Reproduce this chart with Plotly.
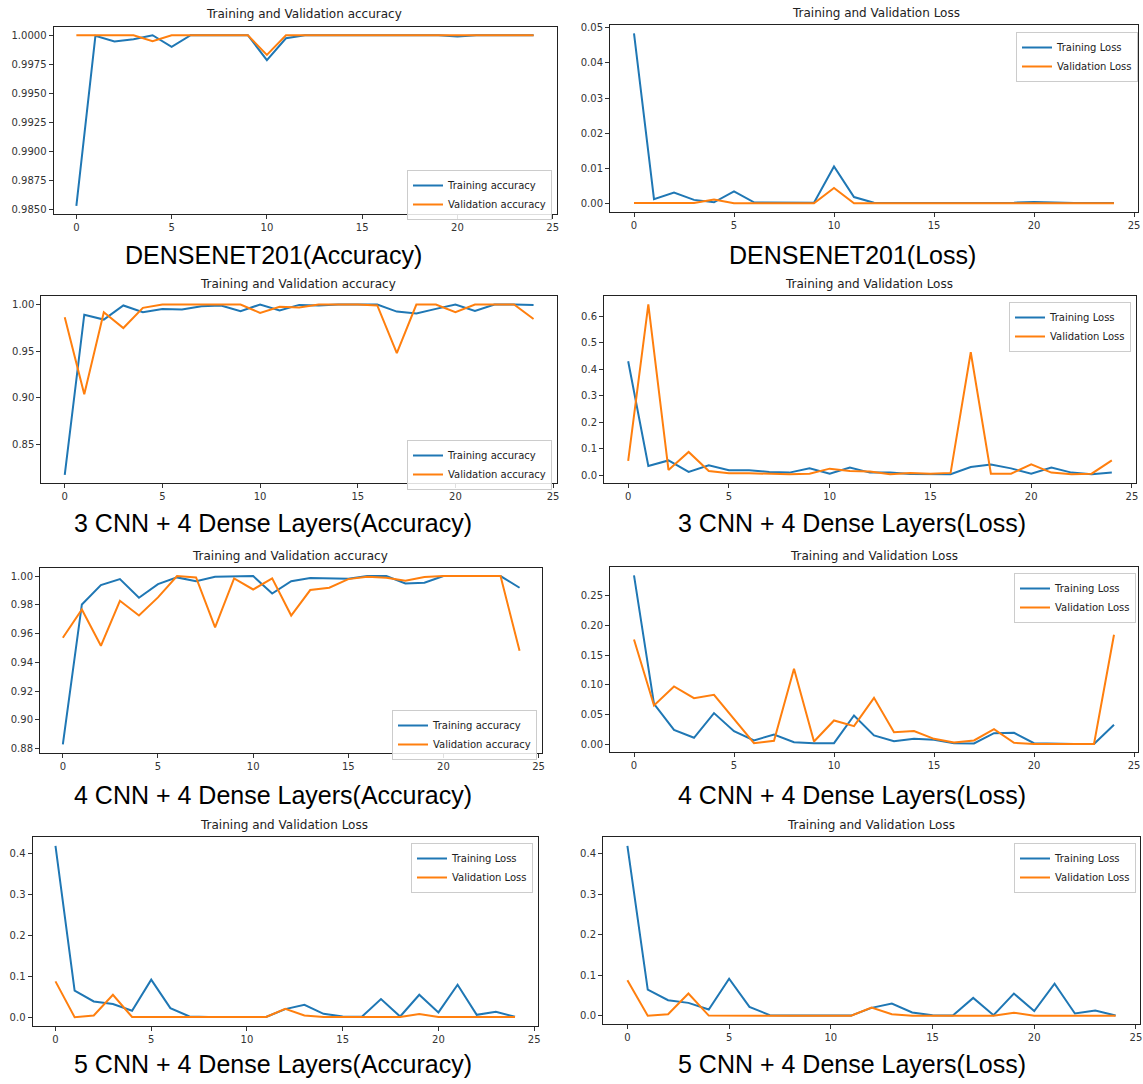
import plotly.graph_objects as go

W, H = 1143, 1084
epochs = list(range(25))

# ---------------- data ----------------
dn_train_acc = [0.9853, 0.99995, 0.99946, 0.99966, 1.0, 0.9990, 1.0, 1.0, 1.0, 1.0,
                0.99786, 0.99974, 1.0, 1.0, 1.0, 1.0, 1.0, 1.0, 1.0, 1.0,
                0.99989, 1.0, 1.0, 1.0, 1.0]
dn_val_acc = [1.0, 1.0, 1.0, 1.0, 0.99949, 1.0, 1.0, 1.0, 1.0, 1.0,
              0.99831, 1.0, 1.0, 1.0, 1.0, 1.0, 1.0, 1.0, 1.0, 1.0,
              1.0, 1.0, 1.0, 1.0, 1.0]
dn_train_loss = [0.0484, 0.0012, 0.0031, 0.0010, 0.0003, 0.0034, 0.0003, 0.0002, 0.0002, 0.0002,
                 0.0105, 0.0018, 0.0002, 0.0001, 0.0001, 0.0001, 0.0001, 0.0001, 0.0001, 0.0002,
                 0.0004, 0.0002, 0.0001, 0.0001, 0.0001]
dn_val_loss = [0.0001, 0.0001, 0.0001, 0.0001, 0.0011, 0.00005, 0.00005, 0.00005, 0.00005, 0.00005,
               0.0044, 0.00005, 0.00005, 0.00005, 0.00005, 0.00005, 0.00005, 0.00005, 0.00005, 0.00005,
               0.00005, 0.00005, 0.00005, 0.00005, 0.00005]

c3_train_acc = [0.817, 0.989, 0.9838, 0.999, 0.9917, 0.9953, 0.9946, 0.998, 0.999, 0.9928,
                1.0, 0.9935, 0.9996, 0.999, 1.0, 1.0, 1.0, 0.9924, 0.9903, 0.9953,
                1.0, 0.9931, 1.0, 1.0, 0.9996]
c3_val_acc = [0.9863, 0.9036, 0.9917, 0.9747, 0.9964, 1.0, 1.0, 1.0, 1.0, 1.0,
              0.991, 0.9975, 0.9968, 1.0, 1.0, 1.0, 0.999, 0.9477, 1.0, 1.0,
              0.9917, 1.0, 1.0, 1.0, 0.9845]
c3_train_loss = [0.430, 0.035, 0.056, 0.0125, 0.0376, 0.019, 0.019, 0.0125, 0.010, 0.026,
                 0.006, 0.029, 0.010, 0.010, 0.005, 0.004, 0.004, 0.031, 0.041, 0.026,
                 0.006, 0.029, 0.010, 0.004, 0.010]
c3_val_loss = [0.054, 0.644, 0.020, 0.088, 0.016, 0.0075, 0.0075, 0.005, 0.004, 0.006,
               0.025, 0.016, 0.014, 0.004, 0.009, 0.006, 0.009, 0.464, 0.006, 0.006,
               0.041, 0.010, 0.004, 0.006, 0.056]

c4_train_acc = [0.883, 0.9803, 0.9937, 0.9979, 0.9849, 0.9944, 0.9991, 0.9965, 0.9995, 0.9998,
                1.0, 0.9879, 0.9965, 0.9986, 0.9981, 0.9981, 1.0, 1.0, 0.9949, 0.9954,
                1.0, 1.0, 1.0, 1.0, 0.9919]
c4_val_acc = [0.9571, 0.9768, 0.9515, 0.9828, 0.9726, 0.9852, 1.0, 0.9991, 0.9643, 0.9984,
              0.9907, 0.9984, 0.9726, 0.9903, 0.9919, 0.9979, 0.9995, 0.9988, 0.9968, 0.9993,
              1.0, 1.0, 1.0, 1.0, 0.948]
c4_train_loss = [0.2836, 0.0682, 0.0246, 0.0112, 0.0526, 0.0224, 0.0067, 0.0168, 0.0039, 0.0022,
                 0.0022, 0.0487, 0.0151, 0.0056, 0.0095, 0.0078, 0.0022, 0.0017, 0.019, 0.0196,
                 0.0022, 0.001, 0.001, 0.001, 0.033]
c4_val_loss = [0.1762, 0.0654, 0.0973, 0.0777, 0.0833, 0.0431, 0.0022, 0.0062, 0.127, 0.005,
               0.0403, 0.0308, 0.0783, 0.0207, 0.0224, 0.0095, 0.0034, 0.0067, 0.0257, 0.0028,
               0.001, 0.001, 0.001, 0.001, 0.184]

c5_train_loss = [0.419, 0.0646, 0.0384, 0.0319, 0.0155, 0.0916, 0.0221, 0.0016, 0.0005, 0.0005,
                 0.0005, 0.0005, 0.0196, 0.0303, 0.0082, 0.0016, 0.0008, 0.0442, 0.0016, 0.0548,
                 0.0115, 0.0793, 0.0057, 0.0131, 0.0008]
c5_val_loss = [0.0875, 0.0, 0.004, 0.0548, 0.0005, 0.0003, 0.0003, 0.0003, 0.0003, 0.0003,
               0.0003, 0.0003, 0.0204, 0.004, 0.0003, 0.0003, 0.0003, 0.0003, 0.0003, 0.0075,
               0.0003, 0.0003, 0.0003, 0.0003, 0.0003]

x_ticks = [0, 5, 10, 15, 20, 25]
yt_dn_acc = [0.9850, 0.9875, 0.9900, 0.9925, 0.9950, 0.9975, 1.0000]
yt_dn_loss = [0.00, 0.01, 0.02, 0.03, 0.04, 0.05]
yt_c3_acc = [0.85, 0.90, 0.95, 1.00]
yt_c3_loss = [0.0, 0.1, 0.2, 0.3, 0.4, 0.5, 0.6]
yt_c4_acc = [0.88, 0.90, 0.92, 0.94, 0.96, 0.98, 1.00]
yt_c4_loss = [0.00, 0.05, 0.10, 0.15, 0.20, 0.25]
yt_c5_loss = [0.0, 0.1, 0.2, 0.3, 0.4]

acc_names = ["Training accuracy", "Validation accuracy"]
loss_names = ["Training Loss", "Validation Loss"]
acc_title = "Training and Validation accuracy"
loss_title = "Training and Validation Loss"

captions = ["DENSENET201(Accuracy)", "DENSENET201(Loss)",
            "3 CNN + 4 Dense Layers(Accuracy)", "3 CNN + 4 Dense Layers(Loss)",
            "4 CNN + 4 Dense Layers(Accuracy)", "4 CNN + 4 Dense Layers(Loss)",
            "5 CNN + 4 Dense Layers(Accuracy)", "5 CNN + 4 Dense Layers(Loss)"]

# ---------------- layout config (pixels) ----------------
# box = (left, right, top, bottom); leg = (right, top)
panels = [
    dict(tr=dn_train_acc, va=dn_val_acc, names=acc_names, title=acc_title, yt=yt_dn_acc, fmt=".4f",
         box=(53.5, 556.5, 26.7, 214.3), leg=(552, 170), tpos=(304, 14), cpos=(273, 255)),
    dict(tr=dn_train_loss, va=dn_val_loss, names=loss_names, title=loss_title, yt=yt_dn_loss, fmt=".2f",
         box=(610, 1138, 25, 211.7), leg=(1138, 32), tpos=(876, 13), cpos=(852, 255)),
    dict(tr=c3_train_acc, va=c3_val_acc, names=acc_names, title=acc_title, yt=yt_c3_acc, fmt=".2f",
         box=(41.3, 557, 296, 483.3), leg=(552, 440), tpos=(298, 284), cpos=(273, 523)),
    dict(tr=c3_train_loss, va=c3_val_loss, names=loss_names, title=loss_title, yt=yt_c3_loss, fmt=".1f",
         box=(604, 1136, 296, 482.7), leg=(1131, 302), tpos=(869, 284), cpos=(852, 523)),
    dict(tr=c4_train_acc, va=c4_val_acc, names=acc_names, title=acc_title, yt=yt_c4_acc, fmt=".2f",
         box=(40, 542.4, 567.7, 752.7), leg=(537, 710), tpos=(290, 556), cpos=(273, 795)),
    dict(tr=c4_train_loss, va=c4_val_loss, names=loss_names, title=loss_title, yt=yt_c4_loss, fmt=".2f",
         box=(610, 1138, 567, 752.3), leg=(1136, 573), tpos=(874, 556), cpos=(852, 795)),
    dict(tr=c5_train_loss, va=c5_val_loss, names=loss_names, title=loss_title, yt=yt_c5_loss, fmt=".1f",
         box=(32.5, 538, 837.3, 1025.7), leg=(533, 843), tpos=(284, 825), cpos=(273, 1064)),
    dict(tr=c5_train_loss, va=c5_val_loss, names=loss_names, title=loss_title, yt=yt_c5_loss, fmt=".1f",
         box=(603, 1140, 837.3, 1024.3), leg=(1136, 843), tpos=(871, 825), cpos=(852, 1064)),
]

BLUE = "#1f77b4"
ORANGE = "#ff7f0e"
TICK_FONT = dict(family="DejaVu Sans", size=10, color="#333333")

fig = go.Figure()
layout = dict(width=W, height=H, margin=dict(l=0, r=0, t=0, b=0, autoexpand=False),
              paper_bgcolor="white", plot_bgcolor="white", showlegend=True)
annotations = []

def px2x(px):
    return px / W

def px2y(py):
    return 1 - py / H

for i, p in enumerate(panels):
    n = i + 1
    sfx = "" if n == 1 else str(n)
    legname = "legend" if n == 1 else f"legend{n}"
    for vals, name, col in ((p["tr"], p["names"][0], BLUE), (p["va"], p["names"][1], ORANGE)):
        fig.add_trace(go.Scatter(x=epochs, y=vals, mode="lines", name=name,
                                 line=dict(color=col, width=2),
                                 xaxis=f"x{sfx}", yaxis=f"y{sfx}", legend=legname))
    allv = list(p["tr"]) + list(p["va"])
    lo, hi = min(allv), max(allv)
    pad = (hi - lo) * 0.05
    x0, x1, y0, y1 = p["box"]
    axcommon = dict(showline=True, mirror=True, linecolor="#222222", linewidth=1,
                    ticks="outside", ticklen=4, tickcolor="#333333", tickwidth=1,
                    showgrid=False, zeroline=False, tickfont=TICK_FONT, automargin=False)
    layout[f"xaxis{sfx}"] = dict(domain=[px2x(x0), min(1.0, px2x(x1))], anchor=f"y{sfx}",
                                 range=[-1.2, 25.2], tickvals=x_ticks,
                                 ticktext=[str(t) for t in x_ticks], **axcommon)
    layout[f"yaxis{sfx}"] = dict(domain=[px2y(y1), px2y(y0)], anchor=f"x{sfx}",
                                 range=[lo - pad, hi + pad], tickvals=p["yt"],
                                 tickformat=p["fmt"], **axcommon)
    lx, ly = p["leg"]
    layout[legname] = dict(x=px2x(lx), y=px2y(ly), xanchor="right", yanchor="top",
                           bgcolor="rgba(255,255,255,0.85)", bordercolor="#cccccc", borderwidth=1,
                           font=dict(family="DejaVu Sans", size=10, color="#222222"),
                           tracegroupgap=0, itemwidth=30)
    tx, ty = p["tpos"]
    annotations.append(dict(x=px2x(tx), y=px2y(ty), xref="paper", yref="paper",
                            text=p["title"], showarrow=False, xanchor="center", yanchor="middle",
                            font=dict(family="DejaVu Sans", size=12, color="#222222")))
    cx, cy = p["cpos"]
    annotations.append(dict(x=px2x(cx), y=px2y(cy), xref="paper", yref="paper",
                            text=captions[i], showarrow=False, xanchor="center", yanchor="middle",
                            font=dict(family="Liberation Sans", size=25, color="black")))

layout["annotations"] = annotations
fig.update_layout(**layout)
fig.write_html("out.html", config={"displayModeBar": False},
               post_script="document.body.style.margin='0';document.body.style.overflow='hidden';")
